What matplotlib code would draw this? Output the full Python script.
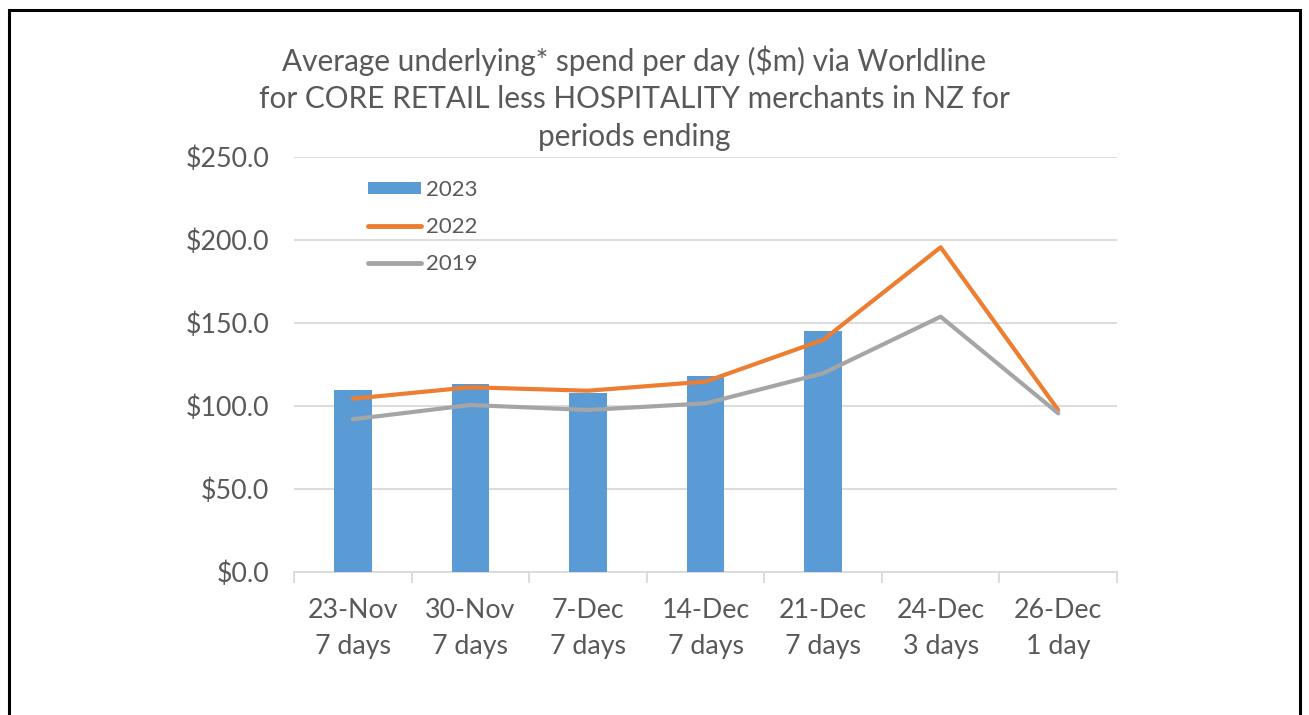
import matplotlib
matplotlib.use("Agg")
import matplotlib.pyplot as plt
from matplotlib.patches import Rectangle
from matplotlib.lines import Line2D
from matplotlib.patches import Patch

categories = ["23-Nov\n7 days", "30-Nov\n7 days", "7-Dec\n7 days", "14-Dec\n7 days",
              "21-Dec\n7 days", "24-Dec\n3 days", "26-Dec\n1 day"]
spend_2023 = [109.6, 113.3, 108.0, 118.0, 145.0]
spend_2022 = [104.4, 111.3, 109.2, 114.7, 139.8, 195.6, 97.6]
spend_2019 = [92.0, 100.6, 97.6, 101.6, 119.7, 153.8, 95.6]
yticks = [0, 50, 100, 150, 200, 250]
title = ("Average underlying* spend per day ($m) via Worldline\n"
         "for CORE RETAIL less HOSPITALITY merchants in NZ for\n"
         "periods ending")

W, H = 1309, 715
fig = plt.figure(figsize=(W / 100, H / 100), dpi=100)
plt.rcParams['font.family'] = ['Lato', 'DejaVu Sans']
txt = '#595959'

# outer border
fig.patches.append(Rectangle((9 / W, -0.05), (1300 - 9) / W, (H - 10) / H + 0.05,
                             transform=fig.transFigure, fill=False,
                             edgecolor='black', linewidth=2.2))

x0, x1 = 294, 1117
y0, y1 = 572, 157
ax = fig.add_axes([x0 / W, 1 - y0 / H, (x1 - x0) / W, (y0 - y1) / H])
n = len(categories)
ax.set_xlim(-0.5, n - 0.5)
ax.set_ylim(0, 250)

ax.bar(range(len(spend_2023)), spend_2023, width=0.32, color='#5B9BD5', zorder=2)
ax.plot(range(n), spend_2022, color='#ED7D31', lw=3.0, zorder=3, solid_joinstyle='round',
        solid_capstyle='round')
ax.plot(range(n), spend_2019, color='#A5A5A5', lw=3.0, zorder=3, solid_joinstyle='round',
        solid_capstyle='round')

ax.set_yticks(yticks)
ax.set_yticklabels([f"${v:.1f}" for v in yticks], fontsize=19.3, color=txt)
ax.yaxis.grid(True, color='#D9D9D9', lw=1.3, zorder=0)
ax.tick_params(axis='y', length=0, pad=18)
for s in ['top', 'right', 'left']:
    ax.spines[s].set_visible(False)
ax.spines['bottom'].set_color('#D9D9D9')
ax.spines['bottom'].set_linewidth(1.3)
ax.spines['bottom'].set_zorder(1)

ax.set_xticks([i - 0.5 for i in range(n + 1)], minor=False)
ax.set_xticklabels([])
ax.tick_params(axis='x', which='major', length=8, color='#D9D9D9', width=1.3)
ax.set_xticks(range(n), minor=True)
ax.set_xticklabels(categories, minor=True, fontsize=19.3, color=txt, linespacing=1.58)
ax.tick_params(axis='x', which='minor', length=0, pad=18.5)

fig.text(634 / W, 1 - 45 / H, title, fontsize=21.4, color=txt, linespacing=1.43,
         ha='center', va='top')

handles = [Patch(facecolor='#5B9BD5'),
           Line2D([], [], color='#ED7D31', lw=3.5, solid_capstyle='round'),
           Line2D([], [], color='#A5A5A5', lw=3.5, solid_capstyle='round')]
leg = ax.legend(handles, ['2023', '2022', '2019'], loc='upper left',
                bbox_to_anchor=((359 - x0) / (x1 - x0), (y0 - 171) / (y0 - y1)),
                frameon=False, fontsize=16, labelcolor=txt, handlelength=2.4,
                handleheight=0.5, labelspacing=0.77, handletextpad=0.2, borderaxespad=0)

fig.savefig("out.png", dpi=100)
